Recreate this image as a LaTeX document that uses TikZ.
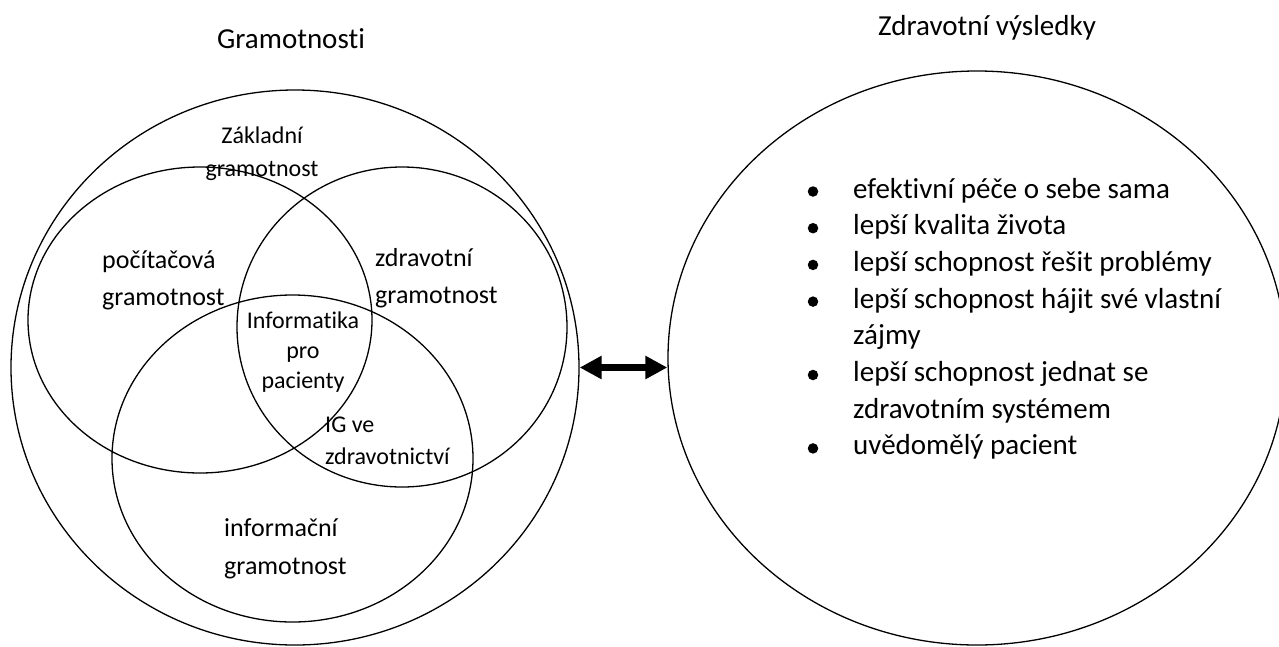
\documentclass[tikz,border=0pt]{standalone}
\usepackage{fontspec}
\setmainfont{Carlito}[Ligatures=NoCommon]
\usetikzlibrary{arrows.meta,shapes.geometric}

\begin{document}
\begin{tikzpicture}[x=1pt,y=-1pt,
  kruh/.style={draw, ellipse, line width=1.3pt, inner sep=0pt},
  nadpis/.style={font=\fontsize{29}{35}\selectfont, inner sep=0pt, anchor=base},
  popis/.style={font=\fontsize{26}{31}\selectfont, inner sep=0pt, anchor=base west},
  maly/.style={font=\fontsize{24}{29}\selectfont, inner sep=0pt},
  bod/.style={font=\fontsize{29}{35}\selectfont, inner sep=0pt, anchor=base west},
  tecka/.style={circle, fill, inner sep=0pt, minimum size=10.5pt}]
  \useasboundingbox (0,0) rectangle (1279,646);
  % nadpisy
  \node[nadpis] (tgram) at (291,48) {Gramotnosti};
  \node[nadpis] (tzdrav) at (987,35) {Zdravotní výsledky};
  % kruhy gramotnosti
  \node[kruh, minimum width=568pt, minimum height=555pt] (gram) at (295,367.5) {};
  \node[kruh, minimum width=344pt, minimum height=306pt] (pocit) at (200,320) {};
  \node[kruh, minimum width=330pt, minimum height=320pt] (zdrav) at (402,327) {};
  \node[kruh, minimum width=361pt, minimum height=327pt] (inform) at (292.5,458.5) {};
  % kruh vysledku
  \node[kruh, minimum width=618pt, minimum height=574pt] (vysl) at (977,358) {};
  % obousmerna sipka
  \draw[line width=7.5pt, {Triangle[length=22pt,width=22pt]}-{Triangle[length=22pt,width=22pt]}]
    (gram.east) -- (gram.east -| vysl.west);
  % popisky
  \node[maly, anchor=base] (zakl1) at (262,143) {Základní};
  \node[maly, anchor=base] (zakl2) at (262,176) {gramotnost};
  \node[popis] (poc1) at (102,268) {počítačová};
  \node[popis] (poc2) at (102,305) {gramotnost};
  \node[popis] (zdr1) at (375,266) {zdravotní};
  \node[popis] (zdr2) at (375,303) {gramotnost};
  \node[maly, anchor=base] (ip1) at (303,328) {Informatika};
  \node[maly, anchor=base] (ip2) at (303,358) {pro};
  \node[maly, anchor=base] (ip3) at (303,388) {pacienty};
  \node[maly, anchor=base west] (ig1) at (325,432) {IG ve};
  \node[maly, anchor=base west] (ig2) at (325,464) {zdravotnictví};
  \node[popis] (inf1) at (224,536) {informační};
  \node[popis] (inf2) at (224,574) {gramotnost};
  % seznam
  \foreach \y/\txt [count=\i] in {198/efektivní péče o sebe sama, 234.7/lepší kvalita života,
      271.4/lepší schopnost řešit problémy, 308.1/lepší schopnost hájit své vlastní,
      344.8/zájmy, 381.5/lepší schopnost jednat se, 418.2/zdravotním systémem,
      454.9/uvědomělý pacient}
    \node[bod] (r\i) at (853,\y) {\txt};
  \foreach \y [count=\i] in {198,234.7,271.4,308.1,381.5,454.9}
    \node[tecka] (t\i) at (813,{\y-6.5}) {};
\end{tikzpicture}
\end{document}
